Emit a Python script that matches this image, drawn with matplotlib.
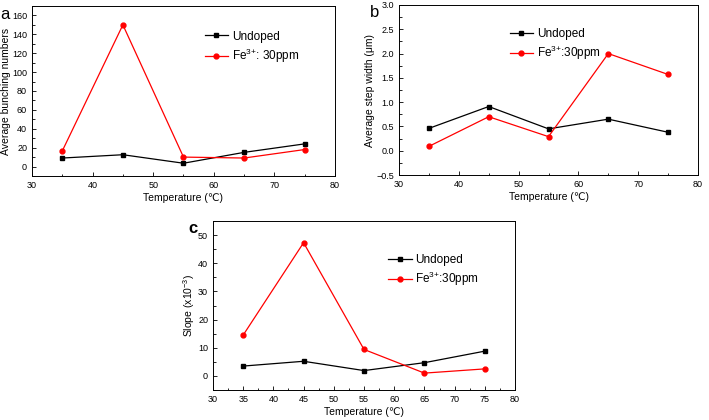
import numpy as np
import matplotlib
matplotlib.use('Agg')
import matplotlib.pyplot as plt
from matplotlib.ticker import MultipleLocator

plt.rcParams['font.family'] = ['Liberation Sans', 'DejaVu Sans']
plt.rcParams['mathtext.fontset'] = 'custom'
plt.rcParams['mathtext.rm'] = 'Liberation Sans'
plt.rcParams['mathtext.it'] = 'Liberation Sans'

# Data
temperature = [35, 45, 55, 65, 75]

bunching_undoped = [9, 12.5, 3.5, 15, 24]
bunching_fe = [16.5, 150, 10, 9, 18]

width_undoped = [0.46, 0.91, 0.45, 0.65, 0.38]
width_fe = [0.09, 0.70, 0.29, 2.0, 1.57]

slope_undoped = [3.5, 5.2, 1.9, 4.7, 8.8]
slope_fe = [14.5, 47.3, 9.4, 1.0, 2.5]

fig = plt.figure(figsize=(7.09, 4.2), dpi=100)

ax_a = fig.add_axes([0.0451, 0.581, 0.4274, 0.4048])
ax_b = fig.add_axes([0.5628, 0.5833, 0.4217, 0.4048])
ax_c = fig.add_axes([0.3004, 0.0714, 0.426, 0.4024])


def style(ax, xmaj, xmin, ymaj, ymin):
    ax.xaxis.set_major_locator(MultipleLocator(xmaj))
    ax.xaxis.set_minor_locator(MultipleLocator(xmin))
    ax.yaxis.set_major_locator(MultipleLocator(ymaj))
    ax.yaxis.set_minor_locator(MultipleLocator(ymin))
    ax.tick_params(which='both', direction='in', labelsize=6.5, width=0.6)
    ax.tick_params(which='major', length=3)
    ax.tick_params(which='minor', length=1.8)
    for s in ax.spines.values():
        s.set_linewidth(0.7)


def draw(ax, y1, y2, lab2, leg_loc):
    ax.plot(temperature, y1, color='black', marker='s', markersize=3.3, linewidth=0.9, label='Undoped')
    ax.plot(temperature, y2, color='red', marker='o', markersize=3.5, linewidth=0.9, label=lab2)
    ax.legend(loc='upper left', bbox_to_anchor=leg_loc, frameon=False, fontsize=8.5,
              handlelength=2.0, handletextpad=0.3, labelspacing=0.35, borderpad=0)
    ax.set_xlim(30, 80)
    ax.set_xlabel('Temperature (\u2103)', fontsize=7.5, labelpad=2)


# panel a
draw(ax_a, bunching_undoped, bunching_fe, 'Fe$^{3{+}}$: 30ppm', (0.55, 0.89))
ax_a.set_ylim(-10, 170)
style(ax_a, 10, 5, 20, 10)
ax_a.set_ylabel('Average bunching numbers', fontsize=7.5, labelpad=1)
fig.text(0.001, 0.955, 'a', fontsize=12)

# panel b
draw(ax_b, width_undoped, width_fe, 'Fe$^{3{+}}$:30ppm', (0.35, 0.90))
ax_b.set_ylim(-0.5, 3.0)
style(ax_b, 10, 5, 0.5, 0.25)
ax_b.set_ylabel('Average step width (\u03bcm)', fontsize=7.5, labelpad=1)
fig.text(0.522, 0.96, 'b', fontsize=12)

# panel c
draw(ax_c, slope_undoped, slope_fe, 'Fe$^{3{+}}$:30ppm', (0.56, 0.84))
ax_c.set_ylim(-5, 55)
style(ax_c, 5, 2.5, 10, 5)
ax_c.set_ylabel('Slope (x10$^{-3}$)', fontsize=7.5, labelpad=1)
fig.text(0.266, 0.445, 'c', fontsize=12, fontweight='bold')

fig.savefig('out.png', dpi=100)
